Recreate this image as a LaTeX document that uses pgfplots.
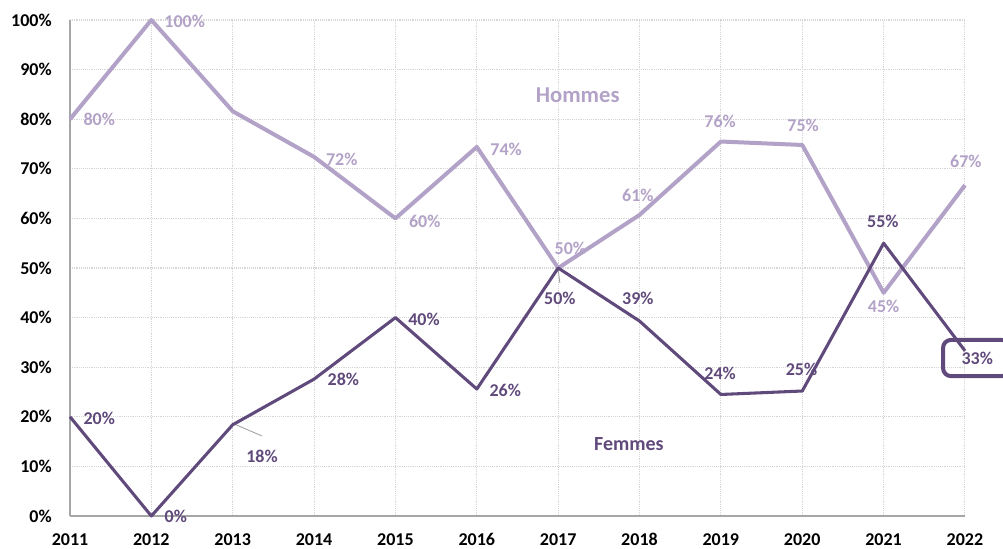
\documentclass[border=0pt]{standalone}
\usepackage{pgfplots}
\pgfplotsset{compat=1.18}
\usepackage{fontspec}
\setmainfont{Carlito}
\definecolor{hom}{HTML}{B3A2C7}
\definecolor{fem}{HTML}{604A7B}
\definecolor{gridc}{HTML}{D6D6D6}
\definecolor{axc}{HTML}{A6A6A6}
\newcommand{\lbl}{\fontsize{13.5}{16}\selectfont\bfseries}
\begin{document}
\begin{tikzpicture}
\begin{axis}[
  scale only axis,
  width=671.25pt, height=372pt,
  xmin=2011, xmax=2022, ymin=0, ymax=100,
  axis x line=bottom, axis y line=left,
  axis line style={draw=axc, line width=1.1pt, -},
  xtick={2011,...,2022},
  xticklabels={2011,2012,2013,2014,2015,2016,2017,2018,2019,2020,2021,2022},
  ytick={0,10,...,100},
  yticklabels={0\%,10\%,20\%,30\%,40\%,50\%,60\%,70\%,80\%,90\%,100\%},
  major tick length=0pt,
  tick label style={font=\lbl, text=black, inner sep=0pt},
  yticklabel style={anchor=east, xshift=-13.5pt},
  xticklabel style={anchor=north, text height=9pt, text depth=0pt, yshift=-13pt},
  grid=major,
  major grid style={densely dotted, draw=gridc, line width=0.8pt},
  clip=false,
]
\coordinate (ll) at (rel axis cs:0,0);
\coordinate (ur) at (rel axis cs:1,1);
% leader lines
\draw[gray!70, line width=0.7pt] (axis cs:2012.99,18.75) -- (axis cs:2013.36,16.13);
\draw[gray!70, line width=0.7pt] (axis cs:2016.998,50) -- (axis cs:2017.02,47);
\addplot[color=hom, line width=3pt, line join=round] coordinates {
 (2011,80) (2012,100) (2013,81.6) (2014,72.4) (2015,60) (2016,74.4)
 (2017,50) (2018,60.7) (2019,75.5) (2020,74.8) (2021,45) (2022,66.7)};
\addplot[color=fem, line width=2.3pt, line join=round] coordinates {
 (2011,20) (2012,0) (2013,18.4) (2014,27.6) (2015,40) (2016,25.6)
 (2017,50) (2018,39.3) (2019,24.5) (2020,25.2) (2021,55) (2022,33.3)};
% Hommes labels
\begin{scope}[every node/.append style={text=hom, font=\lbl}]
\node at (axis cs:2011.36,80.0) {80\%};
\node at (axis cs:2012.41,99.8) {100\%};
\node at (axis cs:2014.34,72.0) {72\%};
\node at (axis cs:2015.36,59.5) {60\%};
\node at (axis cs:2016.36,74.0) {74\%};
\node at (axis cs:2017.15,54.0) {50\%};
\node at (axis cs:2017.98,64.7) {61\%};
\node at (axis cs:2018.99,79.6) {76\%};
\node at (axis cs:2020.01,78.8) {75\%};
\node at (axis cs:2021.00,42.3) {45\%};
\node at (axis cs:2022.01,71.4) {67\%};
\node[font=\fontsize{17}{20}\selectfont\bfseries] at (axis cs:2017.24,84.9) {Hommes};
\end{scope}
\begin{scope}[every node/.append style={text=fem, font=\lbl}]
\node at (axis cs:2011.36,19.6) {20\%};
\node at (axis cs:2012.30,0) {0\%};
\node at (axis cs:2013.36,12.1) {18\%};
\node at (axis cs:2014.36,27.6) {28\%};
\node at (axis cs:2015.35,39.7) {40\%};
\node at (axis cs:2016.35,25.4) {26\%};
\node at (axis cs:2017.02,43.8) {50\%};
\node at (axis cs:2017.98,43.8) {39\%};
\node at (axis cs:2018.99,28.8) {24\%};
\node at (axis cs:2019.99,29.6) {25\%};
\node at (axis cs:2020.99,59.3) {55\%};
\node at (axis cs:2022.15,31.7) {33\%};
\node[font=\fontsize{15}{18}\selectfont\bfseries] at (axis cs:2017.87,14.5) {Femmes};
\end{scope}
\draw[fem, line width=3pt, rounded corners=6pt] (axis cs:2021.73,35.5) rectangle (axis cs:2022.55,28.2);
\end{axis}
\pgfresetboundingbox
\path[use as bounding box] ([shift={(-52.5pt,-24.75pt)}]ll) rectangle ([shift={(28.5pt,15pt)}]ur);
\end{tikzpicture}
\end{document}
